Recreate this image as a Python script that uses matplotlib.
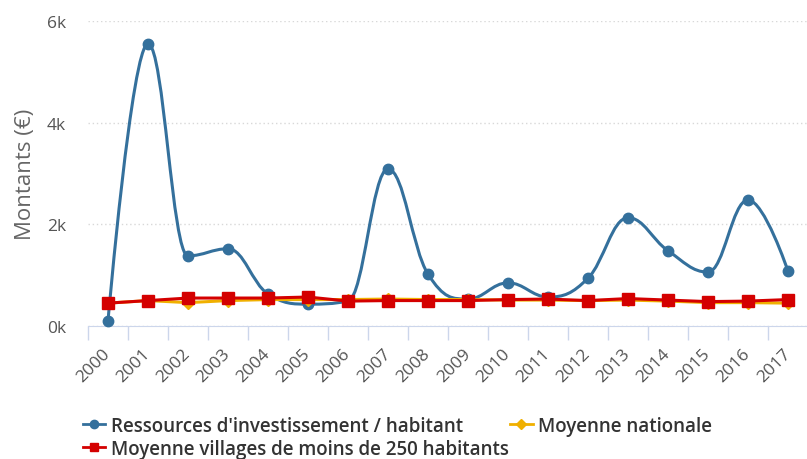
import matplotlib
matplotlib.use("Agg")
import matplotlib.pyplot as plt
from matplotlib.path import Path
from matplotlib.patches import PathPatch
from matplotlib.lines import Line2D
import numpy as np

plt.rcParams['font.family'] = ['Open Sans', 'DejaVu Sans']

years = [str(y) for y in range(2000, 2018)]
ressources = [100, 5550, 1380, 1520, 630, 430, 490, 3090, 1020, 530, 850, 570, 940, 2130, 1480, 1060, 2480, 1080]
nationale = [450, 500, 460, 500, 520, 520, 520, 530, 520, 520, 510, 510, 500, 510, 490, 460, 460, 450]
villages = [450, 500, 550, 550, 550, 570, 490, 500, 500, 500, 520, 530, 500, 540, 510, 480, 490, 520]

c_blue = '#34709c'
c_yellow = '#f0b000'
c_red = '#d40000'
c_grey = '#666666'
c_tick = '#555555'


def spline_path(xs, ys, smoothing=1.5):
    # spline a la Highcharts: bezier cubique, points de controle par point
    n = len(xs)
    denom = smoothing + 1
    left = [None] * n
    right = [None] * n
    for i in range(1, n - 1):
        px, py = xs[i], ys[i]
        lx, ly = xs[i - 1], ys[i - 1]
        nx, ny = xs[i + 1], ys[i + 1]
        lcx = (smoothing * px + lx) / denom
        lcy = (smoothing * py + ly) / denom
        rcx = (smoothing * px + nx) / denom
        rcy = (smoothing * py + ny) / denom
        if rcx != lcx:
            corr = ((rcy - lcy) * (rcx - px)) / (rcx - lcx) + py - rcy
            lcy += corr
            rcy += corr
        if lcy > ly and lcy > py:
            lcy = max(ly, py); rcy = 2 * py - lcy
        elif lcy < ly and lcy < py:
            lcy = min(ly, py); rcy = 2 * py - lcy
        if rcy > ny and rcy > py:
            rcy = max(ny, py); lcy = 2 * py - rcy
        elif rcy < ny and rcy < py:
            rcy = min(ny, py); lcy = 2 * py - rcy
        left[i] = (lcx, lcy)
        right[i] = (rcx, rcy)
    verts = [(xs[0], ys[0])]
    codes = [Path.MOVETO]
    for i in range(1, n):
        c1 = right[i - 1] if right[i - 1] is not None else (xs[i - 1], ys[i - 1])
        c2 = left[i] if left[i] is not None else (xs[i], ys[i])
        verts += [c1, c2, (xs[i], ys[i])]
        codes += [Path.CURVE4] * 3
    return Path(verts, codes)


fig = plt.figure(figsize=(8.07, 4.6), dpi=100)
ax = fig.add_axes([88 / 807, 1 - 327 / 460, 720 / 807, 305 / 460])

x = np.arange(len(years))

ax.add_patch(PathPatch(spline_path(x, ressources), fill=False, edgecolor=c_blue, lw=2.2, zorder=3))
ax.plot(x, ressources, 'o', color=c_blue, ms=7.5, zorder=4, clip_on=False)
ax.plot(x, nationale, '-', color=c_yellow, lw=2.2, zorder=5)
ax.plot(x, nationale, 'D', color=c_yellow, ms=6, zorder=5)
ax.plot(x, villages, '-', color=c_red, lw=2.2, zorder=6)
ax.plot(x, villages, 's', color=c_red, ms=8, zorder=7)

ax.set_xlim(-0.5, len(years) - 0.5)
ax.set_ylim(0, 6000)
ax.set_yticks([0, 2000, 4000, 6000])
ax.set_yticklabels(['0k', '2k', '4k', '6k'])
ax.set_xticks(x)
ax.set_xticklabels(years, rotation=45, ha='right', va='center', rotation_mode='anchor')
ax.set_xticks(np.arange(-0.5, len(years)), minor=True)
ax.tick_params(axis='x', which='major', length=0, pad=18, labelsize=12.5, labelcolor=c_tick)
ax.tick_params(axis='x', which='minor', length=10, color='#ccd6eb', width=1)
ax.tick_params(axis='y', length=0, pad=16, labelsize=12.5, labelcolor=c_tick)

ax.grid(axis='y', color='#d8d8d8', linestyle=(0, (1, 2)), lw=1)
ax.set_axisbelow(True)
for s in ['top', 'right', 'left']:
    ax.spines[s].set_visible(False)
ax.spines['bottom'].set_color('#ccd6eb')
ax.spines['bottom'].set_zorder(1)

ax.set_ylabel('Montants (€)', fontsize=16, color=c_grey, labelpad=8)

h1 = Line2D([], [], color=c_blue, marker='o', lw=2, ms=6)
h2 = Line2D([], [], color=c_yellow, marker='D', lw=2, ms=5)
h3 = Line2D([], [], color=c_red, marker='s', lw=2, ms=6)
lprops = dict(frameon=False, handlelength=1.2, handletextpad=0.3,
              prop={'size': 13.5, 'weight': 'semibold'}, labelcolor='#333333')
leg1 = fig.legend([h1, h2], ["Ressources d'investissement / habitant", 'Moyenne nationale'],
                  ncol=2, loc='center left', bbox_to_anchor=(66 / 807, 1 - 427 / 460),
                  columnspacing=2.5, **lprops)
leg2 = fig.legend([h3], ['Moyenne villages de moins de 250 habitants'],
                  loc='center left', bbox_to_anchor=(66 / 807, 1 - 450 / 460), **lprops)

fig.savefig('out.png', dpi=100)
